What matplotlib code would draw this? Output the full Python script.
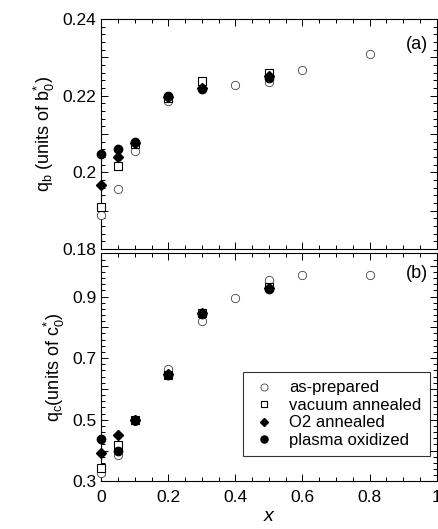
import numpy as np
import matplotlib
matplotlib.use("Agg")
import matplotlib.pyplot as plt
from matplotlib.ticker import MultipleLocator, FuncFormatter

plt.rcParams['font.family'] = ['Liberation Sans', 'DejaVu Sans']
plt.rcParams['mathtext.fontset'] = 'custom'
plt.rcParams['mathtext.rm'] = 'Liberation Sans'
plt.rcParams['mathtext.it'] = 'Liberation Sans:italic'

# panel (a): q_b
xa_asprep = [0, 0.05, 0.1, 0.2, 0.4, 0.5, 0.6, 0.8]
qb_asprep = [0.1888, 0.1958, 0.2057, 0.2187, 0.2229, 0.2236, 0.2268, 0.2308]
xa_vac = [0, 0.05, 0.1, 0.2, 0.3, 0.5]
qb_vac = [0.1909, 0.2018, 0.2073, 0.2193, 0.2239, 0.2260]
xa_o2 = [0, 0.05, 0.1, 0.2, 0.3, 0.5]
qb_o2 = [0.1968, 0.2039, 0.2078, 0.2198, 0.2220, 0.2252]
xa_plasma = [0, 0.05, 0.1, 0.2, 0.3, 0.5]
qb_plasma = [0.2049, 0.2060, 0.2080, 0.2200, 0.2218, 0.2247]

# panel (b): q_c
xb_asprep = [0, 0.05, 0.1, 0.2, 0.3, 0.4, 0.5, 0.6, 0.8]
qc_asprep = [0.326, 0.385, 0.495, 0.664, 0.822, 0.895, 0.954, 0.970, 0.970]
xb_vac = [0, 0.05, 0.1, 0.2, 0.3, 0.5]
qc_vac = [0.342, 0.417, 0.500, 0.645, 0.845, 0.930]
xb_o2 = [0, 0.05, 0.1, 0.2, 0.3, 0.5]
qc_o2 = [0.391, 0.450, 0.500, 0.648, 0.845, 0.928]
xb_plasma = [0, 0.05, 0.1, 0.2, 0.3, 0.5]
qc_plasma = [0.437, 0.398, 0.500, 0.645, 0.843, 0.924]

labels = ["as-prepared", "vacuum annealed", "O2 annealed", "plasma oxidized"]

fig = plt.figure(figsize=(4.38, 5.29), dpi=100)
axa = fig.add_axes([0.231, 0.529, 0.766, 0.435])
axb = fig.add_axes([0.231, 0.090, 0.766, 0.431])


def draw(ax, xs, ys):
    ax.plot(xs[0], ys[0], 'o', ms=6, mfc='white', mec='#444444', mew=0.6, ls='none',
            label=labels[0], zorder=3, clip_on=False)
    ax.plot(xs[1], ys[1], 's', ms=5.5, mfc='white', mec='black', mew=0.8, ls='none',
            label=labels[1], zorder=3, clip_on=False)
    ax.plot(xs[2], ys[2], 'D', ms=5, mfc='black', mec='black', ls='none',
            label=labels[2], zorder=4, clip_on=False)
    ax.plot(xs[3], ys[3], 'o', ms=6, mfc='black', mec='black', ls='none',
            label=labels[3], zorder=4, clip_on=False)
    ax.set_xlim(0, 1)
    ax.xaxis.set_major_locator(MultipleLocator(0.2))
    ax.xaxis.set_minor_locator(MultipleLocator(0.05))
    ax.tick_params(which='both', direction='in', top=True, right=True, labelsize=12.5, width=0.7)
    ax.tick_params(which='major', length=5)
    ax.tick_params(which='minor', length=3)
    ax.tick_params(axis='x', pad=6)
    for s in ax.spines.values():
        s.set_linewidth(0.8)


draw(axa, [xa_asprep, xa_vac, xa_o2, xa_plasma], [qb_asprep, qb_vac, qb_o2, qb_plasma])
axa.set_ylim(0.18, 0.24)
axa.yaxis.set_major_locator(MultipleLocator(0.01))
axa.yaxis.set_minor_locator(MultipleLocator(0.002))
axa.yaxis.set_major_formatter(FuncFormatter(
    lambda v, p: ('%g' % round(v, 3)) if round(v * 100) % 2 == 0 else ''))
axa.tick_params(axis='x', labelbottom=False)
axa.set_ylabel(r"q$_\mathregular{b}$ (units of b$^{*}_{\mathregular{0}}$)", fontsize=13)
axa.text(0.975, 0.89, "(a)", transform=axa.transAxes, ha='right', va='center', fontsize=13)

draw(axb, [xb_asprep, xb_vac, xb_o2, xb_plasma], [qc_asprep, qc_vac, qc_o2, qc_plasma])
axb.set_ylim(0.3, 1.04)
axb.yaxis.set_major_locator(MultipleLocator(0.1))
axb.yaxis.set_minor_locator(MultipleLocator(0.02))
axb.yaxis.set_major_formatter(FuncFormatter(
    lambda v, p: ('%g' % round(v, 2)) if round(v * 10) % 2 == 1 else ''))
axb.xaxis.set_major_formatter(FuncFormatter(lambda v, p: '%g' % round(v, 2)))
axb.set_ylabel(r"q$_\mathregular{c}$(units of c$^{*}_{\mathregular{0}}$)", fontsize=13)
axb.set_xlabel("x", fontsize=14, style='italic', labelpad=2)
axb.text(0.975, 0.91, "(b)", transform=axb.transAxes, ha='right', va='center', fontsize=13)
leg = axb.legend(loc='lower right', bbox_to_anchor=(0.98, 0.11), fontsize=12,
                 frameon=True, fancybox=False, edgecolor='black', handletextpad=0.7,
                 borderpad=0.5, labelspacing=0.15, handlelength=1.6, markerscale=0.85,
                 borderaxespad=0)
leg.get_frame().set_linewidth(0.8)

fig.savefig("out.png", dpi=100)
